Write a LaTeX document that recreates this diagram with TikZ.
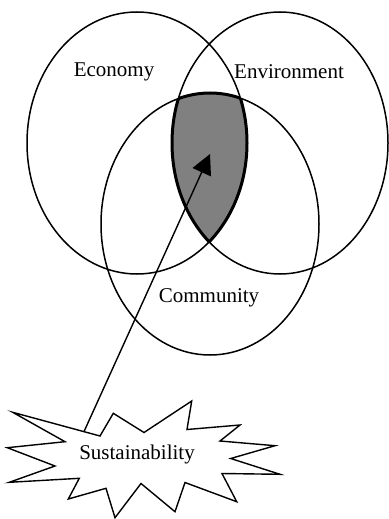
\documentclass[tikz,border=0pt]{standalone}
\usepackage{fontspec}
\setmainfont{Liberation Serif}
\usetikzlibrary{arrows.meta}
\begin{document}
\begin{tikzpicture}[x=1pt,y=-1pt,
  circ/.style={line width=1.5pt},
  lbl/.style={font=\fontsize{21}{25}\selectfont, inner sep=0pt},
  core/.style={fill={rgb,255:red,128;green,128;blue,128}},
  coreline/.style={line width=3pt},
  burst/.style={line width=1.4pt, fill=white, line join=miter},
  pointer/.style={line width=1.4pt, -{Triangle[length=20pt,width=20pt]}}]
\useasboundingbox (0,0) rectangle (388,519);
\def\econ{(137,143) ellipse [x radius=110, y radius=131]}
\def\envi{(280,143) ellipse [x radius=108, y radius=131]}
\def\comm{(210,224) ellipse [x radius=109, y radius=131]}
% shaded intersection
\begin{scope}
  \clip \econ; \clip \envi;
  \fill[core] \comm;
  \draw[coreline] \comm;
\end{scope}
\begin{scope}
  \clip \envi; \clip \comm;
  \draw[coreline] \econ;
\end{scope}
\begin{scope}
  \clip \econ; \clip \comm;
  \draw[coreline] \envi;
\end{scope}
% circles
\draw[circ] \econ;
\draw[circ] \envi;
\draw[circ] \comm;
\node[lbl] (econlbl) at (114,72) {Economy};
\node[lbl] (envlbl) at (289,72) {Environment};
\node[lbl] (commlbl) at (209,298) {Community};
% pointer
\coordinate (from) at (82,436);
\coordinate (to) at (210,154);
\draw[pointer] (from) -- (to);
% starburst
\draw[burst] (12.7,412.3) -- (100,436) -- (113.3,413.3) -- (144,432.5) -- (191.7,401)
  -- (187,429.5) -- (240,425) -- (220,441) -- (275,445.7) -- (230.7,458.5)
  -- (280,474.3) -- (222,473.5) -- (236.7,501.7) -- (185,482.5) -- (175,511.7)
  -- (141,483.5) -- (115,517.7) -- (106,488.3) -- (68.3,499) -- (79.3,478.3)
  -- (9.3,482.3) -- (55,466) -- (7.3,447.7) -- (65,441.7) -- cycle;
\node[lbl] (sust) at (137,454) {Sustainability};
\end{tikzpicture}
\end{document}
